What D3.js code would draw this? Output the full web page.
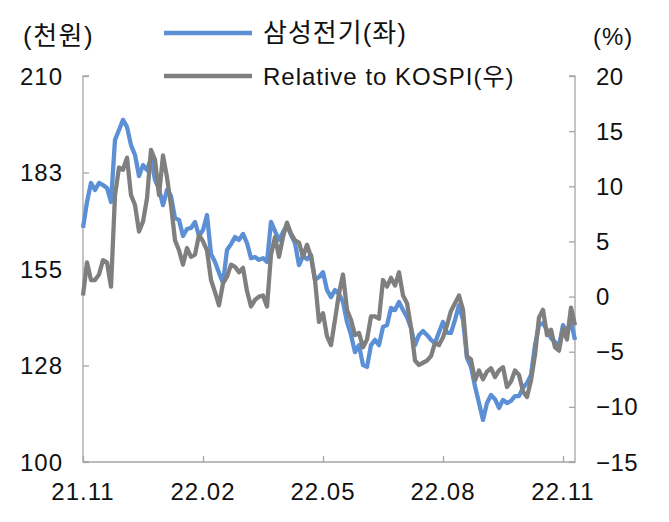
<!DOCTYPE html>
<html><head><meta charset="utf-8">
<script src="https://cdn.jsdelivr.net/npm/d3@7"></script>
<style>
html,body{margin:0;padding:0;background:#fff;}
svg text{font-family:"Liberation Sans","Noto Sans CJK KR",Arial,sans-serif;fill:#111;}
</style></head>
<body><svg id="c" width="669" height="522"></svg>
<script>
// Samsung Electro-Mechanics price (thousand KRW), left axis
const samsungEM = [166.7,174.1,179.5,177.5,179.5,178.9,178.1,174.1,191.8,194.6,197.5,195.5,190.3,187.5,181.5,184.6,183.2,186.6,180.4,177.8,173.2,177.5,175.8,169.5,169.0,164.4,166.4,166.7,168.4,164.4,166.1,170.4,159.3,157.0,153.9,151.0,160.4,162.1,164.1,163.3,165.0,162.4,158.1,158.4,157.6,158.1,157.0,168.4,165.8,163.3,165.5,167.5,164.7,162.4,156.1,158.7,157.8,159.0,151.9,152.7,154.1,149.0,147.0,149.0,147.9,145.6,139.9,136.2,131.3,133.3,127.6,127.1,133.3,134.8,133.3,138.5,139.0,143.9,143.3,145.6,143.3,141.3,138.2,133.3,136.2,137.3,136.2,134.8,133.9,137.0,139.9,136.8,136.8,140.5,144.7,140.5,129.6,127.1,121.6,116.8,112.0,116.8,119.1,117.9,115.4,117.7,116.8,117.4,118.8,118.8,121.1,122.5,124.8,133.3,139.0,139.6,137.6,135.3,134.2,133.0,139.0,137.0,139.9,134.8];
// Relative to KOSPI (%), right axis
const relKospi = [0.1,3.1,1.5,1.5,2.0,3.3,3.1,0.9,9.2,11.7,11.5,12.6,9.2,8.3,5.9,6.8,8.9,13.3,12.4,9.2,12.8,10.8,8.3,5.1,4.2,2.9,4.4,3.6,3.8,5.6,5.0,4.2,1.5,0.4,-0.8,1.2,1.8,2.9,2.7,2.2,2.6,0.5,-0.9,-0.3,0.0,0.1,-0.9,3.8,5.4,3.6,5.4,6.7,5.7,5.1,4.9,3.6,4.7,3.6,1.5,-2.3,-1.5,-3.6,-4.4,-2.1,0.3,2.0,-1.2,-2.1,-3.5,-3.3,-4.6,-3.9,-1.8,-1.8,-2.0,1.5,0.9,1.7,1.0,2.2,0.1,-0.6,-2.8,-5.8,-6.2,-6.0,-5.8,-5.4,-4.2,-4.4,-3.7,-2.6,-1.3,-0.6,0.1,-1.2,-5.4,-5.7,-7.6,-6.7,-7.5,-6.8,-6.5,-7.3,-6.7,-6.4,-8.2,-7.7,-6.7,-7.1,-8.6,-9.1,-7.6,-5.3,-1.9,-1.2,-3.5,-3.0,-4.6,-4.9,-2.9,-3.9,-1.0,-2.6];
const xTickLabels = ["21.11","22.02","22.05","22.08","22.11"];
const xTickIndex = [0,30,60,90,120];
const leftTicks = [100,127.5,155,182.5,210];
const rightTicks = [-15,-10,-5,0,5,10,15,20];
const seriesNames = ["삼성전기(좌)","Relative to KOSPI(우)"];
const unitLeft = "(천원)", unitRight = "(%)";

const svg = d3.select("#c");
const L=83, R=575, T=76, B=462;
const x = d3.scaleLinear().domain([0, samsungEM.length-1]).range([L,R]);
const yL = d3.scaleLinear().domain([100,210]).range([B,T]);
const yR = d3.scaleLinear().domain([-15,20]).range([B,T]);
const axisColor = "#a6a6a6";
const blue = "#5b8fd6", gray = "#7f7f7f";
const LW = 4.3;

// axes
const gL = svg.append("g").attr("transform",`translate(${L},0)`)
  .call(d3.axisRight(yL).tickValues(leftTicks).tickSize(6).tickFormat(""));
const gR = svg.append("g").attr("transform",`translate(${R},0)`)
  .call(d3.axisLeft(yR).tickValues(rightTicks).tickSize(6).tickFormat(""));
const gB = svg.append("g").attr("transform",`translate(0,${B})`)
  .call(d3.axisTop(x).tickValues(xTickIndex).tickSize(6).tickFormat(""));
[gL,gR,gB].forEach(g=>{
  g.select(".domain").attr("stroke",axisColor).attr("stroke-width",1.3);
  g.selectAll(".tick line").attr("stroke",axisColor).attr("stroke-width",1.3);
});
gL.select(".domain").attr("d",`M6,${T}H0V${B}H6`);
gR.select(".domain").attr("d",`M-6,${T}H0V${B}H-6`);
gB.select(".domain").attr("d",`M${L},0H${R}`);

// labels
svg.append("g").selectAll("text").data(leftTicks).join("text")
  .attr("x",63).attr("y",d=>yL(d)).attr("dy","0.36em").attr("text-anchor","end")
  .attr("font-size",24).attr("letter-spacing",1).text(d=>d3.format(".0f")(Math.round(d)));
svg.append("g").selectAll("text").data(rightTicks).join("text")
  .attr("x",596).attr("y",d=>yR(d)).attr("dy","0.36em").attr("text-anchor","start")
  .attr("font-size",24).attr("letter-spacing",0.5).text(d=>d<0?"\u2212"+Math.abs(d):d);
svg.append("g").selectAll("text").data(xTickIndex).join("text")
  .attr("x",d=>x(d)).attr("y",491).attr("dy","0.36em").attr("text-anchor","middle")
  .attr("font-size",24).attr("letter-spacing",1).text((d,i)=>xTickLabels[i]);
svg.append("text").attr("x",23).attr("y",36).attr("dy","0.36em").attr("font-size",26)
  .attr("letter-spacing",1.5).text(unitLeft);
svg.append("text").attr("x",593).attr("y",36).attr("dy","0.36em").attr("font-size",24)
  .attr("letter-spacing",1).text(unitRight);

// lines
const lineL = d3.line().x((d,i)=>x(i)).y(d=>yL(d));
const lineR = d3.line().x((d,i)=>x(i)).y(d=>yR(d));
svg.append("path").datum(samsungEM).attr("d",lineL).attr("fill","none")
  .attr("stroke",blue).attr("stroke-width",LW).attr("stroke-linejoin","round");
svg.append("path").datum(relKospi).attr("d",lineR).attr("fill","none")
  .attr("stroke",gray).attr("stroke-width",LW).attr("stroke-linejoin","round");

// legend
const leg = [{c:blue,y:33,fs:26},{c:gray,y:76,fs:24}];
leg.forEach((d,i)=>{
  svg.append("line").attr("x1",164).attr("x2",252).attr("y1",d.y).attr("y2",d.y)
    .attr("stroke",d.c).attr("stroke-width",LW);
  svg.append("text").attr("x",263).attr("y",d.y).attr("dy","0.36em")
    .attr("font-size",d.fs).attr("letter-spacing",1).text(seriesNames[i]);
});
</script></body></html>
